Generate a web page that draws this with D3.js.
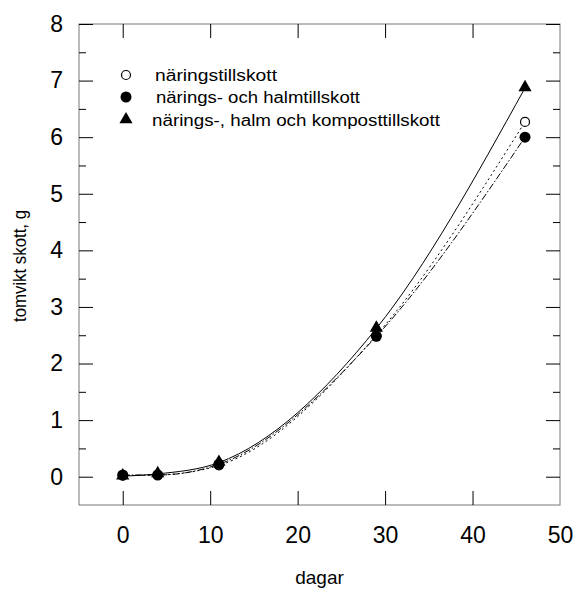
<!DOCTYPE html>
<html>
<head>
<meta charset="utf-8">
<title>tomvikt skott</title>
<script src="https://cdn.jsdelivr.net/npm/d3@7/dist/d3.min.js"></script>
<style>
  body { margin: 0; background: #fff; }
  svg { font-family: "Liberation Sans", Arial, sans-serif; }
</style>
</head>
<body>
<svg id="vis" width="577" height="591"></svg>
<script>
// dagar (x) och tomvikt skott, g (y)
var days = [0, 4, 11, 29, 46];
var naring = [0.02, 0.03, 0.20, 2.50, 6.27];          // näringstillskott
var naringHalm = [0.03, 0.03, 0.22, 2.48, 6.00];      // närings- och halmtillskott
var naringHalmKompost = [0.01, 0.05, 0.25, 2.62, 6.87]; // närings-, halm och komposttillskott
var seriesNames = ["näringstillskott", "närings- och halmtillskott", "närings-, halm och komposttillskott"];
var xTicks = [0, 10, 20, 30, 40, 50];
var yTicks = [0, 1, 2, 3, 4, 5, 6, 7, 8];
var yMinor = [0.5, 1.5, 2.5, 3.5, 4.5, 5.5, 6.5, 7.5];

var svg = d3.select("#vis");
var mLeft = 79, mTop = 24, w = 481, h = 481;

var x = d3.scaleLinear().domain([-5, 50]).range([mLeft, mLeft + w]);
var y = d3.scaleLinear().domain([-0.5, 8]).range([mTop + h, mTop]);

// ram
svg.append("rect").attr("x", mLeft).attr("y", mTop).attr("width", w).attr("height", h)
   .attr("fill", "none").attr("stroke", "#777").attr("stroke-width", 1);

function clean(g) { g.select(".domain").remove(); g.selectAll("line").attr("stroke", "#000"); }

// x axlar
svg.append("g").attr("transform", "translate(0," + (mTop + h) + ")")
   .call(d3.axisBottom(x).tickValues(xTicks.slice(0, 5)).tickSize(-14).tickPadding(22))
   .call(clean);
svg.append("g").attr("transform", "translate(0," + (mTop + h) + ")")
   .call(d3.axisBottom(x).tickValues([50]).tickSize(0).tickPadding(22))
   .call(clean);
svg.append("g").attr("transform", "translate(0," + mTop + ")")
   .call(d3.axisTop(x).tickValues(xTicks.slice(0, 5)).tickSize(-14).tickFormat(""))
   .call(clean);

// y axlar
svg.append("g").attr("transform", "translate(" + mLeft + ",0)")
   .call(d3.axisLeft(y).tickValues(yTicks).tickSize(-14).tickPadding(16))
   .call(clean);
svg.append("g").attr("transform", "translate(" + mLeft + ",0)")
   .call(d3.axisLeft(y).tickValues(yMinor).tickSize(-7).tickFormat(""))
   .call(clean);
svg.append("g").attr("transform", "translate(" + (mLeft + w) + ",0)")
   .call(d3.axisRight(y).tickValues(yTicks).tickSize(-14).tickFormat(""))
   .call(clean);
svg.append("g").attr("transform", "translate(" + (mLeft + w) + ",0)")
   .call(d3.axisRight(y).tickValues(yMinor).tickSize(-7).tickFormat(""))
   .call(clean);

svg.selectAll(".tick text").attr("font-size", 23).attr("font-family", "Liberation Sans, Arial, sans-serif").attr("fill", "#000");

// axeltitlar
svg.append("text").attr("x", mLeft + w / 2).attr("y", 584).attr("text-anchor", "middle")
   .attr("font-size", 19).text("dagar");
svg.append("text").attr("transform", "translate(26,266) rotate(-90)").attr("text-anchor", "middle")
   .attr("font-size", 18).attr("textLength", 112).attr("lengthAdjust", "spacingAndGlyphs")
   .text("tomvikt skott, g");

// kurvor
var series = [
  { vals: naring, dash: "2,3", sym: "open" },
  { vals: naringHalm, dash: "7,2,1.5,2", sym: "filled" },
  { vals: naringHalmKompost, dash: null, sym: "tri" }
];
var line = d3.line().x(function (d) { return x(d[0]); }).y(function (d) { return y(d[1]); })
   .curve(d3.curveMonotoneX);

series.forEach(function (s) {
  var pts = days.map(function (d, i) { return [d, s.vals[i]]; });
  svg.append("path").attr("d", line(pts)).attr("fill", "none").attr("stroke", "#000")
     .attr("stroke-width", 1).attr("stroke-dasharray", s.dash);
});

function symbol(g, kind, cx, cy) {
  if (kind === "open") {
    g.append("circle").attr("cx", cx).attr("cy", cy).attr("r", 4.5)
     .attr("fill", "#fff").attr("stroke", "#000").attr("stroke-width", 1.2);
  } else if (kind === "filled") {
    g.append("circle").attr("cx", cx).attr("cy", cy).attr("r", 5.5).attr("fill", "#000");
  } else {
    g.append("path").attr("d", d3.symbol().type(d3.symbolTriangle).size(75)())
     .attr("transform", "translate(" + cx + "," + (cy - 0.5) + ")").attr("fill", "#000");
  }
}

series.forEach(function (s) {
  days.forEach(function (d, i) { symbol(svg, s.sym, x(d), y(s.vals[i])); });
});

// legend
var legY = [75, 97, 120];
var legLen = [122, 204, 288];
var legX = [155, 156, 152];
series.forEach(function (s, i) {
  symbol(svg, s.sym, 126, legY[i]);
  svg.append("text").attr("x", legX[i]).attr("y", legY[i] + 6).attr("font-size", 16)
     .attr("textLength", legLen[i]).attr("lengthAdjust", "spacingAndGlyphs")
     .text(seriesNames[i]);
});
</script>
</body>
</html>
